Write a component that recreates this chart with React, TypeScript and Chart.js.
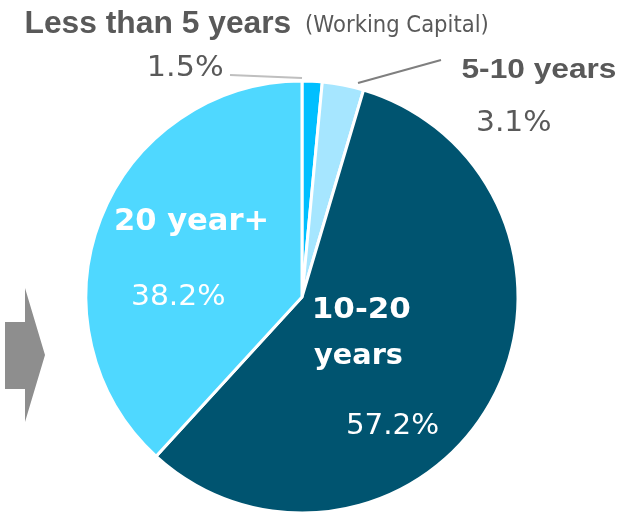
import React, { useEffect, useRef } from "react";
import { Chart, registerables } from "chart.js";

Chart.register(...registerables);

const categories = ["Less than 5 years", "5-10 years", "10-20 years", "20 year+"];
const shares = [1.5, 3.1, 57.2, 38.2];
const sliceColors = ["#00BFFF", "#A6E6FF", "#005470", "#4FD8FF"];

const pct = (v: number) => `${v.toFixed(1)}%`;

const GRAY = "#595959";
const ARIAL = "'Liberation Sans', Arial, sans-serif";
const VERD = "'DejaVu Sans', Verdana, sans-serif";

function drawFit(
  ctx: CanvasRenderingContext2D,
  text: string,
  x: number,
  y: number,
  font: string,
  width: number
) {
  ctx.font = font;
  const m = ctx.measureText(text);
  const ink = (m.actualBoundingBoxRight || m.width) + (m.actualBoundingBoxLeft || 0);
  const left = -(m.actualBoundingBoxLeft || 0);
  const s = width / ink;
  ctx.save();
  ctx.translate(x, y);
  ctx.scale(s, 1);
  ctx.fillText(text, -left, 0);
  ctx.restore();
}

const annotations = {
  id: "annotations",
  afterDraw(chart: any) {
    const ctx = chart.ctx as CanvasRenderingContext2D;
    ctx.save();
    // arrow
    ctx.fillStyle = "#8E8E8E";
    ctx.beginPath();
    ctx.moveTo(5, 322);
    ctx.lineTo(25, 322);
    ctx.lineTo(25, 288);
    ctx.lineTo(45, 355);
    ctx.lineTo(25, 422);
    ctx.lineTo(25, 389);
    ctx.lineTo(5, 389);
    ctx.closePath();
    ctx.fill();

    // leader lines
    ctx.lineWidth = 2;
    ctx.strokeStyle = "#BFBFBF";
    ctx.beginPath();
    ctx.moveTo(230, 75);
    ctx.lineTo(302, 78);
    ctx.stroke();
    ctx.strokeStyle = "#7F7F7F";
    ctx.beginPath();
    ctx.moveTo(358, 83);
    ctx.lineTo(441, 60);
    ctx.stroke();

    ctx.textBaseline = "alphabetic";
    ctx.textAlign = "left";
    ctx.fillStyle = GRAY;
    drawFit(ctx, categories[0], 26.5, 33, `bold 32px ${ARIAL}`, 264);
    drawFit(ctx, "(Working Capital)", 306, 31.5, `23px ${VERD}`, 181);
    drawFit(ctx, categories[1], 461.5, 78, `bold 28.5px ${ARIAL}`, 154);
    drawFit(ctx, pct(shares[0]), 150, 76, `29px ${VERD}`, 72);
    drawFit(ctx, pct(shares[1]), 478, 131, `29px ${VERD}`, 72);

    ctx.fillStyle = "#FFFFFF";
    drawFit(ctx, categories[3], 116, 230, `bold 30px ${VERD}`, 150);
    drawFit(ctx, "10-20", 315, 317.5, `bold 28.5px ${VERD}`, 95);
    drawFit(ctx, "years", 314, 363.5, `bold 28.5px ${VERD}`, 88);
    drawFit(ctx, pct(shares[3]), 133, 305, `29px ${VERD}`, 91);
    drawFit(ctx, pct(shares[2]), 348, 433.5, `28.5px ${VERD}`, 90);
    ctx.restore();
  },
};

export default function App() {
  const ref = useRef<HTMLCanvasElement>(null);
  useEffect(() => {
    document.body.style.margin = "0";
    document.body.style.overflow = "hidden";
    const chart = new Chart(ref.current!, {
      type: "pie",
      data: {
        labels: categories,
        datasets: [
          {
            data: shares,
            backgroundColor: sliceColors,
            borderColor: "#FFFFFF",
            borderWidth: 3,
          },
        ],
      },
      options: {
        responsive: false,
        animation: false,
        layout: { padding: { left: 84.5, right: 105.5, top: 79.5, bottom: 25.5 } },
        plugins: { legend: { display: false }, tooltip: { enabled: false } },
      },
      plugins: [annotations],
    });
    return () => chart.destroy();
  }, []);
  return (
    <div style={{ position: "fixed", left: 0, top: 0, width: 625, height: 512, overflow: "hidden", background: "#fff" }}>
      <canvas ref={ref} width={625} height={540} style={{ width: 625, height: 540, display: "block" }} />
    </div>
  );
}
